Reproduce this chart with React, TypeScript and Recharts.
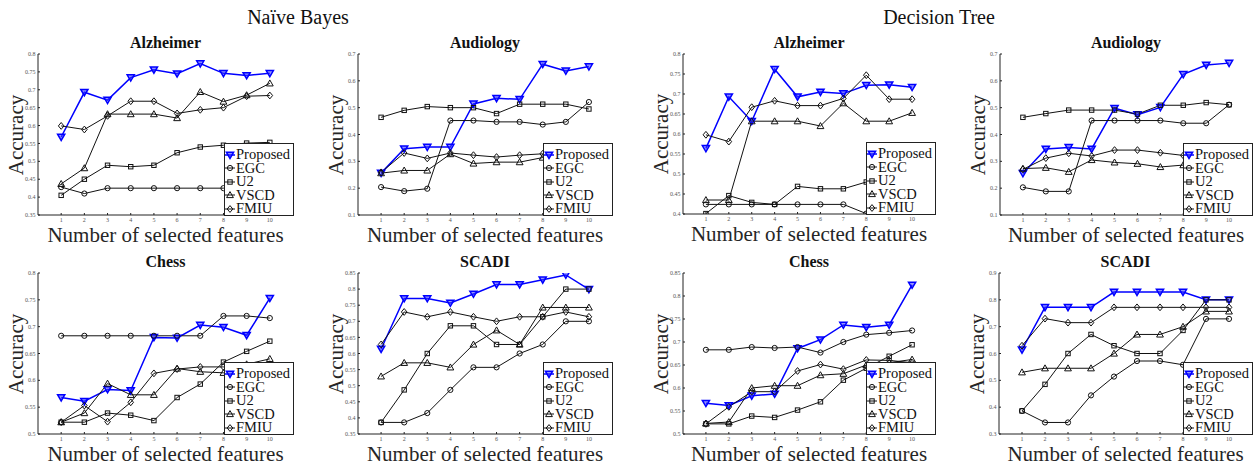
import React from 'react';
import { LineChart, Line, XAxis, YAxis, Legend } from 'recharts';

const FONT = "'Liberation Serif', 'Times New Roman', Times, serif";

const features = [1, 2, 3, 4, 5, 6, 7, 8, 9, 10];
const methods = ['Proposed', 'EGC', 'U2', 'VSCD', 'FMIU'];
const shapes = ['triDown', 'circle', 'square', 'triUp', 'diamond'];
const colors = ['#0000ff', '#111', '#111', '#111', '#111'];
const widths = [1.5, 1, 1, 1, 1];

// y ticks
const ticksAlzNB = [0.35, 0.4, 0.45, 0.5, 0.55, 0.6, 0.65, 0.7, 0.75, 0.8];
const ticksAud = [0.1, 0.2, 0.3, 0.4, 0.5, 0.6, 0.7];
const ticksAlzDT = [0.4, 0.45, 0.5, 0.55, 0.6, 0.65, 0.7, 0.75, 0.8];
const ticksChessNB = [0.5, 0.55, 0.6, 0.65, 0.7, 0.75, 0.8];
const ticksScadiNB = [0.35, 0.4, 0.45, 0.5, 0.55, 0.6, 0.65, 0.7, 0.75, 0.8, 0.85];
const ticksChessDT = [0.5, 0.55, 0.6, 0.65, 0.7, 0.75, 0.8, 0.85];
const ticksScadiDT = [0.3, 0.4, 0.5, 0.6, 0.7, 0.8, 0.9];

// Naive Bayes - Alzheimer
const nbAlzProposed = [0.568, 0.693, 0.671, 0.734, 0.756, 0.745, 0.773, 0.746, 0.74, 0.746];
const nbAlzEGC = [0.428, 0.41, 0.425, 0.425, 0.425, 0.425, 0.425, 0.425, 0.425, 0.425];
const nbAlzU2 = [0.405, 0.45, 0.489, 0.485, 0.489, 0.524, 0.54, 0.545, 0.551, 0.553];
const nbAlzVSCD = [0.437, 0.481, 0.632, 0.632, 0.632, 0.621, 0.694, 0.667, 0.685, 0.718];
const nbAlzFMIU = [0.599, 0.589, 0.627, 0.668, 0.668, 0.634, 0.644, 0.65, 0.682, 0.684];

// Naive Bayes - Audiology
const nbAudProposed = [0.256, 0.347, 0.353, 0.353, 0.514, 0.535, 0.531, 0.662, 0.637, 0.653];
const nbAudEGC = [0.204, 0.189, 0.198, 0.452, 0.452, 0.447, 0.447, 0.437, 0.447, 0.521];
const nbAudU2 = [0.464, 0.49, 0.504, 0.5, 0.5, 0.478, 0.513, 0.513, 0.513, 0.495];
const nbAudVSCD = [0.256, 0.266, 0.266, 0.327, 0.292, 0.297, 0.297, 0.314, 0.32, 0.33];
const nbAudFMIU = [0.259, 0.331, 0.311, 0.331, 0.323, 0.316, 0.323, 0.328, 0.33, 0.33];

// Decision Tree - Alzheimer
const dtAlzProposed = [0.564, 0.693, 0.632, 0.762, 0.693, 0.705, 0.701, 0.722, 0.723, 0.717];
const dtAlzEGC = [0.424, 0.424, 0.424, 0.424, 0.424, 0.424, 0.424, 0.401, 0.401, 0.401];
const dtAlzU2 = [0.401, 0.446, 0.429, 0.424, 0.469, 0.463, 0.463, 0.48, 0.485, 0.49];
const dtAlzVSCD = [0.435, 0.435, 0.632, 0.632, 0.632, 0.62, 0.677, 0.632, 0.632, 0.653];
const dtAlzFMIU = [0.598, 0.581, 0.667, 0.683, 0.671, 0.671, 0.689, 0.747, 0.687, 0.687];

// Decision Tree - Audiology
const dtAudProposed = [0.255, 0.346, 0.352, 0.346, 0.498, 0.474, 0.501, 0.624, 0.659, 0.666];
const dtAudEGC = [0.203, 0.188, 0.188, 0.452, 0.452, 0.452, 0.452, 0.442, 0.442, 0.511];
const dtAudU2 = [0.464, 0.478, 0.491, 0.491, 0.491, 0.476, 0.509, 0.509, 0.519, 0.511];
const dtAudVSCD = [0.273, 0.276, 0.261, 0.305, 0.296, 0.291, 0.279, 0.286, 0.29, 0.29];
const dtAudFMIU = [0.27, 0.312, 0.33, 0.32, 0.342, 0.342, 0.332, 0.322, 0.32, 0.32];

// Naive Bayes - Chess
const nbChessProposed = [0.568, 0.561, 0.583, 0.581, 0.68, 0.679, 0.703, 0.699, 0.684, 0.753];
const nbChessEGC = [0.683, 0.683, 0.683, 0.683, 0.683, 0.683, 0.683, 0.72, 0.72, 0.716];
const nbChessU2 = [0.522, 0.522, 0.539, 0.535, 0.525, 0.568, 0.593, 0.634, 0.654, 0.673];
const nbChessVSCD = [0.522, 0.539, 0.594, 0.573, 0.573, 0.622, 0.616, 0.614, 0.63, 0.64];
const nbChessFMIU = [0.522, 0.553, 0.523, 0.559, 0.613, 0.621, 0.625, 0.625, 0.625, 0.63];

// Naive Bayes - SCADI
const nbScadiProposed = [0.614, 0.771, 0.771, 0.757, 0.785, 0.814, 0.814, 0.829, 0.844, 0.799];
const nbScadiEGC = [0.386, 0.386, 0.415, 0.487, 0.557, 0.557, 0.6, 0.628, 0.7, 0.7];
const nbScadiU2 = [0.386, 0.487, 0.6, 0.686, 0.686, 0.628, 0.628, 0.714, 0.8, 0.8];
const nbScadiVSCD = [0.529, 0.571, 0.571, 0.557, 0.628, 0.672, 0.628, 0.743, 0.743, 0.743];
const nbScadiFMIU = [0.628, 0.729, 0.714, 0.729, 0.714, 0.7, 0.714, 0.714, 0.729, 0.714];

// Decision Tree - Chess
const dtChessProposed = [0.567, 0.562, 0.583, 0.587, 0.686, 0.705, 0.737, 0.732, 0.737, 0.824];
const dtChessEGC = [0.683, 0.683, 0.689, 0.687, 0.689, 0.677, 0.7, 0.716, 0.72, 0.725];
const dtChessU2 = [0.522, 0.522, 0.539, 0.536, 0.552, 0.57, 0.617, 0.643, 0.669, 0.694];
const dtChessVSCD = [0.523, 0.526, 0.6, 0.605, 0.605, 0.628, 0.631, 0.65, 0.655, 0.662];
const dtChessFMIU = [0.522, 0.559, 0.592, 0.592, 0.637, 0.651, 0.641, 0.661, 0.66, 0.655];

// Decision Tree - SCADI
const dtScadiProposed = [0.614, 0.772, 0.772, 0.772, 0.829, 0.829, 0.829, 0.829, 0.8, 0.8];
const dtScadiEGC = [0.386, 0.343, 0.343, 0.444, 0.514, 0.572, 0.572, 0.558, 0.729, 0.729];
const dtScadiU2 = [0.386, 0.485, 0.6, 0.671, 0.629, 0.6, 0.6, 0.686, 0.8, 0.8];
const dtScadiVSCD = [0.53, 0.545, 0.545, 0.545, 0.6, 0.671, 0.671, 0.7, 0.757, 0.757];
const dtScadiFMIU = [0.629, 0.73, 0.715, 0.715, 0.772, 0.772, 0.772, 0.772, 0.772, 0.772];

const panels = [
  { title: 'Alzheimer', px: 38, py: 54, pw: 255, ph: 161, ticks: ticksAlzNB,
    series: [nbAlzProposed, nbAlzEGC, nbAlzU2, nbAlzVSCD, nbAlzFMIU] },
  { title: 'Audiology', px: 358, py: 54, pw: 254, ph: 161, ticks: ticksAud,
    series: [nbAudProposed, nbAudEGC, nbAudU2, nbAudVSCD, nbAudFMIU] },
  { title: 'Alzheimer', px: 683, py: 54, pw: 252, ph: 160, ticks: ticksAlzDT,
    series: [dtAlzProposed, dtAlzEGC, dtAlzU2, dtAlzVSCD, dtAlzFMIU] },
  { title: 'Audiology', px: 1000, py: 54, pw: 252, ph: 161, ticks: ticksAud,
    series: [dtAudProposed, dtAudEGC, dtAudU2, dtAudVSCD, dtAudFMIU] },
  { title: 'Chess', px: 38, py: 273, pw: 255, ph: 161, ticks: ticksChessNB,
    series: [nbChessProposed, nbChessEGC, nbChessU2, nbChessVSCD, nbChessFMIU] },
  { title: 'SCADI', px: 358, py: 273, pw: 254, ph: 161, ticks: ticksScadiNB,
    series: [nbScadiProposed, nbScadiEGC, nbScadiU2, nbScadiVSCD, nbScadiFMIU] },
  { title: 'Chess', px: 683, py: 273, pw: 252, ph: 161, ticks: ticksChessDT,
    series: [dtChessProposed, dtChessEGC, dtChessU2, dtChessVSCD, dtChessFMIU] },
  { title: 'SCADI', px: 999, py: 273, pw: 253, ph: 161, ticks: ticksScadiDT,
    series: [dtScadiProposed, dtScadiEGC, dtScadiU2, dtScadiVSCD, dtScadiFMIU] },
];

function Marker({ shape, cx, cy, color, sw }: any) {
  if (cx == null || cy == null) return <g />;
  switch (shape) {
    case 'triDown':
      return <path d={`M${cx - 3.6},${cy - 2.8}L${cx + 3.6},${cy - 2.8}L${cx},${cy + 3.4}Z`} fill="#3a3aff" fillOpacity={0.55} stroke={color} strokeWidth={sw} />;
    case 'triUp':
      return <path d={`M${cx - 3.4},${cy + 2.6}L${cx + 3.4},${cy + 2.6}L${cx},${cy - 3.4}Z`} fill="none" stroke={color} strokeWidth={sw} />;
    case 'circle':
      return <circle cx={cx} cy={cy} r={2.6} fill="none" stroke={color} strokeWidth={sw} />;
    case 'square':
      return <rect x={cx - 2.2} y={cy - 2.2} width={4.4} height={4.4} fill="none" stroke={color} strokeWidth={sw} />;
    default:
      return <path d={`M${cx},${cy - 3.4}L${cx + 2.8},${cy}L${cx},${cy + 3.4}L${cx - 2.8},${cy}Z`} fill="none" stroke={color} strokeWidth={sw} />;
  }
}

const LW = 70;
const LH = 73;

function LegendBox() {
  return (
    <div style={{ width: LW, height: LH, boxSizing: 'border-box', border: '1px solid #222', background: '#fff',
      paddingTop: 4, fontFamily: FONT, fontSize: 14.5, color: '#111' }}>
      {methods.map((m, i) => (
        <div key={m} style={{ display: 'flex', alignItems: 'center', height: 13.5, whiteSpace: 'nowrap' }}>
          <svg width={10} height={10} style={{ flex: 'none' }}>
            <line x1={0} x2={10} y1={5} y2={5} stroke={colors[i]} strokeWidth={widths[i]} />
            <Marker shape={shapes[i]} cx={5} cy={5} color={colors[i]} sw={widths[i]} />
          </svg>
          <span style={{ marginLeft: 1, lineHeight: '13.5px' }}>{m}</span>
        </div>
      ))}
    </div>
  );
}

const YW = 40;
const MT = 3;
const MR = 3;
const XH = 20;
const AX = '#222';

function Panel({ cfg }: any) {
  const { title, px, py, pw, ph, ticks, series } = cfg;
  const data = features.map((f, i) => {
    const row: any = { n: f };
    methods.forEach((m, k) => { row[m] = series[k][i]; });
    return row;
  });
  const domain = [ticks[0], ticks[ticks.length - 1]];
  const tickStyle = { fontSize: 6, fill: '#555', fontFamily: FONT };
  return (
    <>
      <div style={{ position: 'absolute', left: px, top: py - 19, width: pw, textAlign: 'center',
        fontFamily: FONT, fontWeight: 'bold', fontSize: 16, lineHeight: '16px', color: '#111' }}>{title}</div>
      <div style={{ position: 'absolute', left: px - YW, top: py - MT }}>
        <LineChart width={YW + pw + MR} height={MT + ph + XH} data={data}
          margin={{ top: MT, right: MR, bottom: 0, left: 0 }}>
          <XAxis dataKey="n" type="number" domain={[0, 11]} ticks={features} height={XH}
            tickSize={-2} tickMargin={5} tick={tickStyle} axisLine={{ stroke: AX }} tickLine={{ stroke: AX }} />
          <XAxis xAxisId="top" orientation="top" type="number" domain={[0, 11]} ticks={features} height={0}
            tickSize={-2} tick={false} axisLine={{ stroke: AX }} tickLine={{ stroke: AX }} />
          <YAxis type="number" domain={domain} ticks={ticks} width={YW} allowDataOverflow
            tickSize={-2} tickMargin={4.5} tick={tickStyle} axisLine={{ stroke: AX }} tickLine={{ stroke: AX }} />
          <YAxis yAxisId="r" orientation="right" type="number" domain={domain} ticks={ticks} width={0}
            allowDataOverflow tickSize={-2} tick={false} axisLine={{ stroke: AX }} tickLine={{ stroke: AX }} />
          {methods.map((m, k) => (
            <Line key={m} dataKey={m} type="linear" stroke={colors[k]} strokeWidth={widths[k]}
              isAnimationActive={false} activeDot={false}
              dot={(p: any) => <Marker key={`${m}-${p.index}`} shape={shapes[k]} cx={p.cx} cy={p.cy} color={colors[k]} sw={widths[k]} />} />
          ))}
          <Legend layout="vertical" align="center" verticalAlign="middle" content={() => <LegendBox />}
            wrapperStyle={{ left: YW + pw - LW + 1, top: MT + ph - LH + 1, width: LW, height: LH, margin: 0 }} />
        </LineChart>
      </div>
      <div style={{ position: 'absolute', left: px - 40, width: pw + 80, top: py + ph + 10, textAlign: 'center',
        fontFamily: FONT, fontSize: 21, lineHeight: '21px', color: '#262626', whiteSpace: 'nowrap' }}>
        Number of selected features
      </div>
      <div style={{ position: 'absolute', left: px - 22 - 60, top: py + ph / 2 - 11, width: 120, height: 22,
        textAlign: 'center', fontFamily: FONT, fontSize: 21, lineHeight: '22px', color: '#262626',
        transform: 'rotate(-90deg)', transformOrigin: '60px 11px' }}>
        Accuracy
      </div>
    </>
  );
}

export default function App() {
  return (
    <div style={{ position: 'absolute', left: 0, top: 0, width: 1260, height: 467, background: '#fff', overflow: 'hidden' }}>
      <div style={{ position: 'absolute', left: 198, top: 7, width: 200, textAlign: 'center', fontFamily: FONT,
        fontSize: 20, lineHeight: '20px', color: '#111' }}>Naïve Bayes</div>
      <div style={{ position: 'absolute', left: 839, top: 7, width: 200, textAlign: 'center', fontFamily: FONT,
        fontSize: 20, lineHeight: '20px', color: '#111' }}>Decision Tree</div>
      {panels.map((cfg, i) => <Panel key={i} cfg={cfg} />)}
    </div>
  );
}
